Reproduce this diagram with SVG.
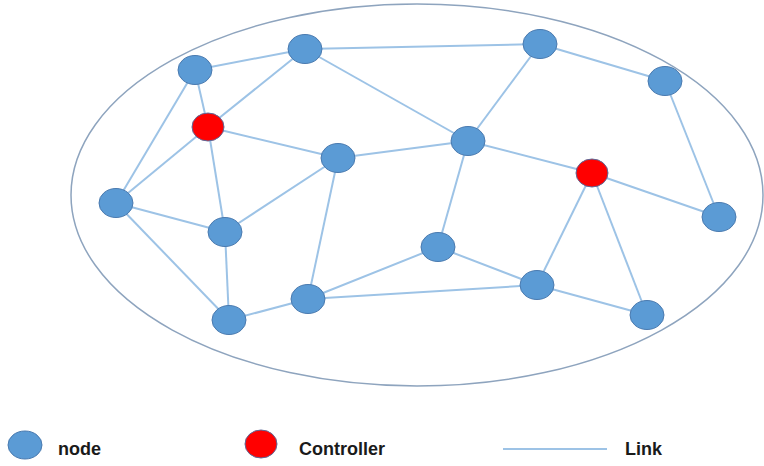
<svg xmlns="http://www.w3.org/2000/svg" width="764" height="466" viewBox="0 0 764 466">
<style>
.n{fill:#5B9BD5;stroke:#4A7AAF;stroke-width:1}
.c{fill:#FF0000;stroke:#5A6A9A;stroke-width:1}
.e{stroke:#9DC3E6;stroke-width:2;fill:none}
.t{font-family:"Liberation Sans",Arial,sans-serif;font-size:18px;font-weight:bold;fill:#1a1a1a}
</style>
<rect width="764" height="466" fill="#ffffff"/>
<ellipse id="boundary" cx="417" cy="195" rx="346" ry="191" fill="none" stroke="#8EA4BE" stroke-width="1.5"/>
<g id="links">
<line class="e" x1="195" y1="70" x2="305" y2="49"/>
<line class="e" x1="195" y1="70" x2="208" y2="127"/>
<line class="e" x1="195" y1="70" x2="116" y2="203"/>
<line class="e" x1="305" y1="49" x2="208" y2="127"/>
<line class="e" x1="305" y1="49" x2="540" y2="44"/>
<line class="e" x1="305" y1="49" x2="468" y2="141"/>
<line class="e" x1="208" y1="127" x2="338" y2="158"/>
<line class="e" x1="208" y1="127" x2="116" y2="203"/>
<line class="e" x1="208" y1="127" x2="225" y2="232"/>
<line class="e" x1="116" y1="203" x2="225" y2="232"/>
<line class="e" x1="116" y1="203" x2="229" y2="320"/>
<line class="e" x1="225" y1="232" x2="338" y2="158"/>
<line class="e" x1="225" y1="232" x2="229" y2="320"/>
<line class="e" x1="338" y1="158" x2="468" y2="141"/>
<line class="e" x1="338" y1="158" x2="308" y2="299"/>
<line class="e" x1="229" y1="320" x2="308" y2="299"/>
<line class="e" x1="308" y1="299" x2="438" y2="247"/>
<line class="e" x1="308" y1="299" x2="537" y2="285"/>
<line class="e" x1="438" y1="247" x2="537" y2="285"/>
<line class="e" x1="438" y1="247" x2="468" y2="141"/>
<line class="e" x1="468" y1="141" x2="540" y2="44"/>
<line class="e" x1="468" y1="141" x2="592" y2="173"/>
<line class="e" x1="540" y1="44" x2="665" y2="81"/>
<line class="e" x1="665" y1="81" x2="719" y2="217"/>
<line class="e" x1="592" y1="173" x2="719" y2="217"/>
<line class="e" x1="592" y1="173" x2="537" y2="285"/>
<line class="e" x1="592" y1="173" x2="647" y2="315"/>
<line class="e" x1="537" y1="285" x2="647" y2="315"/>
</g>
<g id="nA"><ellipse class="n" cx="195" cy="70" rx="17" ry="14.5"/></g>
<g id="nB"><ellipse class="n" cx="305" cy="49" rx="17" ry="14.5"/></g>
<g id="nC"><ellipse class="c" cx="208" cy="127" rx="16" ry="14"/></g>
<g id="nD"><ellipse class="n" cx="338" cy="158" rx="17" ry="14.5"/></g>
<g id="nE"><ellipse class="n" cx="116" cy="203" rx="17" ry="14.5"/></g>
<g id="nF"><ellipse class="n" cx="225" cy="232" rx="17" ry="14.5"/></g>
<g id="nG"><ellipse class="n" cx="308" cy="299" rx="17" ry="14.5"/></g>
<g id="nH"><ellipse class="n" cx="229" cy="320" rx="17" ry="14.5"/></g>
<g id="nI"><ellipse class="n" cx="540" cy="44" rx="17" ry="14.5"/></g>
<g id="nJ"><ellipse class="n" cx="665" cy="81" rx="17" ry="14.5"/></g>
<g id="nK"><ellipse class="n" cx="468" cy="141" rx="17" ry="14.5"/></g>
<g id="nL"><ellipse class="c" cx="592" cy="173" rx="16" ry="14"/></g>
<g id="nM"><ellipse class="n" cx="719" cy="217" rx="17" ry="14.5"/></g>
<g id="nN"><ellipse class="n" cx="438" cy="247" rx="17" ry="14.5"/></g>
<g id="nO"><ellipse class="n" cx="537" cy="285" rx="17" ry="14.5"/></g>
<g id="nP"><ellipse class="n" cx="647" cy="315" rx="17" ry="14.5"/></g>
<g id="legend">
<ellipse class="n" cx="25" cy="445" rx="17" ry="14"/>
<text class="t" x="58" y="455">node</text>
<ellipse class="c" cx="261" cy="444" rx="16" ry="14"/>
<text class="t" x="299" y="455">Controller</text>
<line class="e" x1="503" y1="449" x2="607" y2="449"/>
<text class="t" x="625" y="455">Link</text>
</g>
</svg>
